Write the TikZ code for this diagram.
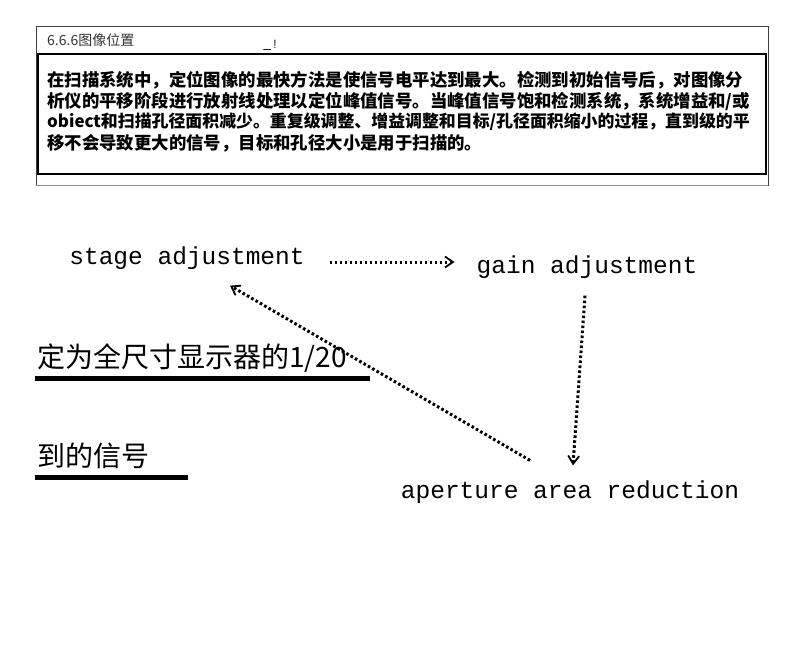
\documentclass[tikz,border=0pt]{standalone}
\usepackage{fontspec}
\setmonofont{Liberation Mono}
\newfontfamily\cjk{Noto Sans CJK SC}
\usetikzlibrary{positioning,arrows.meta,calc}
\newcommand{\boxfont}{\cjk\bfseries\fontsize{17.4}{21}\selectfont}

\begin{document}
\begin{tikzpicture}[x=1pt, y=-1pt, >={Straight Barb[length=8pt, width=11pt, line width=1.8pt]},
  lbl/.style={font=\ttfamily\fontsize{24.5}{26}\selectfont, inner sep=0pt, anchor=center},
  row/.style={font=\boxfont, inner sep=0pt, anchor=west},
  side/.style={font=\cjk\fontsize{28}{30}\selectfont, inner sep=0pt, anchor=west},
  flow/.style={->, line width=3pt, dash pattern=on 2.6pt off 2.4pt},
  rule/.style={line width=5pt}]
  \useasboundingbox (0,0) rectangle (800,667);
  % scanned text box
  \draw[line width=1pt, black!75] (36,186) -- (36,26) -- (768,26) -- (768,186);
  \draw[line width=1pt, black!45] (36,185) -- (768,185);
  \draw[line width=2pt] (38,54) rectangle (766,174);
  \node[font=\cjk\fontsize{14}{16}\selectfont, text=black!80, inner sep=0pt, anchor=west] (head) at (47,40) {6.6.6图像位置};
  \node[font=\sffamily\fontsize{12}{12}\selectfont, inner sep=0pt] (mark) at (270,45) {\_\,!};
  \node[row] (r1) at (47,80) {在扫描系统中，定位图像的最快方法是使信号电平达到最大。检测到初始信号后，对图像分};
  \node[row] (r2) at (47,101) {析仪的平移阶段进行放射线处理以定位峰值信号。当峰值信号饱和检测系统，系统增益和/或};
  \node[row, font=\cjk\bfseries\fontsize{16.9}{21}\selectfont] (r3) at (47,122) {obiect和扫描孔径面积减少。重复级调整、增益调整和目标/孔径面积缩小的过程，直到级的平};
  \node[row] (r4) at (47,143) {移不会导致更大的信号，目标和孔径大小是用于扫描的。};
  % cut-off lines on the left
  \node[side] (s1) at (37,358) {定为全尺寸显示器的1/20};
  \draw[rule] (35,378) -- (370,378);
  \node[side] (s2) at (37,456) {到的信号};
  \draw[rule] (35,477) -- (188,477);
  % loop of adjustments
  \node[lbl] (stage) at (187,258) {stage adjustment};
  \node[lbl] (gain) at (587,267) {gain adjustment};
  \node[lbl] (aper) at (570,492) {aperture area reduction};
  \draw[flow] ($(stage.east)+(25,4)$) -- ($(gain.west)+(-22,-5)$);
  \draw[flow] ($(gain.south)+(-2,17)$) -- ($(aper.north)+(3,-15)$);
  \draw[flow] ($(aper.north)+(-40,-20)$) -- ($(stage.south)+(43,16)$);
\end{tikzpicture}
\end{document}
